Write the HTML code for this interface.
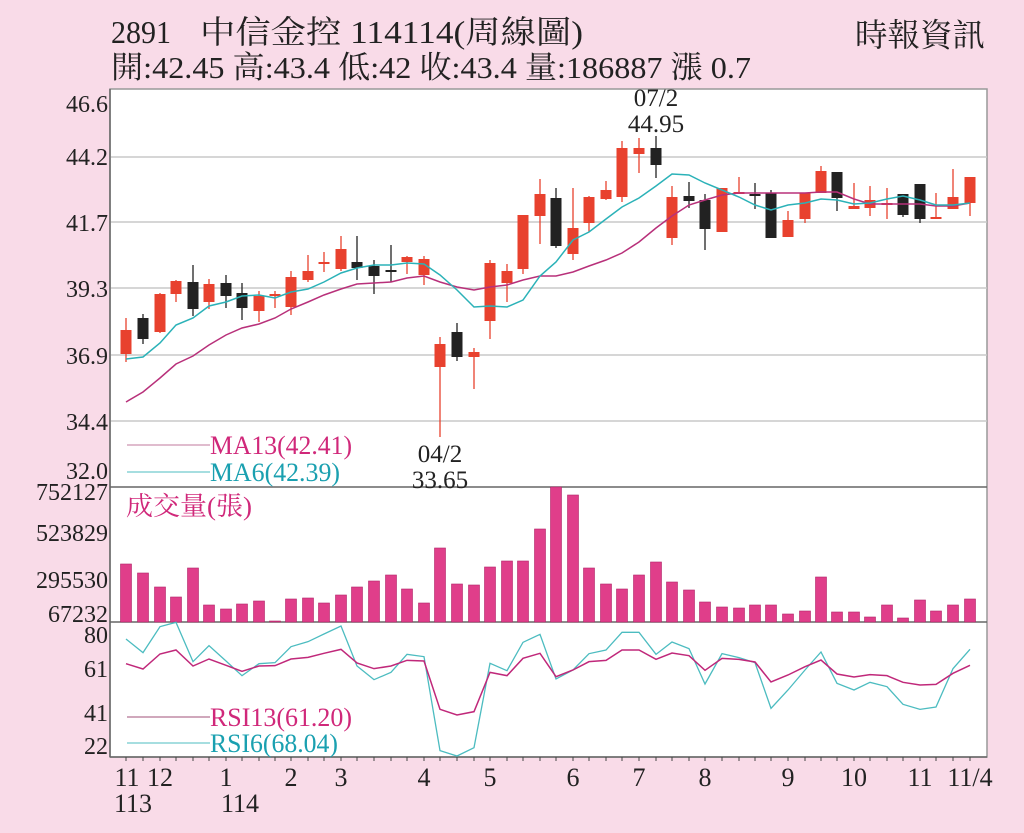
<!DOCTYPE html>
<html><head><meta charset="utf-8"><style>
html,body{margin:0;padding:0;background:#f9dbe8;}
svg{display:block;}
text{font-family:"Liberation Serif","Noto Serif CJK SC","Noto Sans CJK TC",serif;}
</style></head><body>
<svg id="s" width="1024" height="833" xmlns="http://www.w3.org/2000/svg">
<rect x="0" y="0" width="1024" height="833" fill="#f9dbe8"/>
<rect x="110" y="89" width="877" height="668" fill="#fff" stroke="#999" stroke-width="1.5"/>
<g stroke="#c8c8c8" stroke-width="1.5">
<line x1="110" y1="157" x2="987" y2="157"/><line x1="110" y1="222" x2="987" y2="222"/>
<line x1="110" y1="288" x2="987" y2="288"/><line x1="110" y1="355" x2="987" y2="355"/>
<line x1="110" y1="421" x2="987" y2="421"/>
</g>
<g stroke="#666" stroke-width="1.5"><line x1="110" y1="487" x2="987" y2="487"/><line x1="110" y1="622" x2="987" y2="622"/><line x1="110" y1="757" x2="987" y2="757"/><line x1="110" y1="89" x2="110" y2="757"/></g>
<g font-size="32" fill="#222">
<text x="111" y="43" textLength="60" lengthAdjust="spacingAndGlyphs">2891</text>
<text x="200" y="43" textLength="383" lengthAdjust="spacingAndGlyphs">中信金控 114114(周線圖)</text>
<text x="855" y="46" textLength="130" lengthAdjust="spacingAndGlyphs">時報資訊</text>
<text x="111" y="78" font-size="31" textLength="640" lengthAdjust="spacingAndGlyphs">開:42.45 高:43.4 低:42 收:43.4 量:186887 漲 0.7</text>
</g>
<g font-size="24" fill="#222" text-anchor="end">
<text x="108" y="112">46.6</text><text x="108" y="165">44.2</text><text x="108" y="231">41.7</text>
<text x="108" y="297">39.3</text><text x="108" y="364">36.9</text><text x="108" y="430">34.4</text>
<text x="108" y="479">32.0</text>
<text x="108" y="500">752127</text><text x="108" y="541">523829</text><text x="108" y="588">295530</text><text x="108" y="622">67232</text>
<text x="108" y="643">80</text><text x="108" y="677">61</text><text x="108" y="721">41</text><text x="108" y="754">22</text>
</g>
<g id="g"></g>
<g font-size="26">
<line x1="127" y1="445" x2="210" y2="445" stroke="#c27a9c" stroke-width="1"/>
<line x1="127" y1="472" x2="210" y2="472" stroke="#4cbcc0" stroke-width="1"/>
<text x="210" y="454" fill="#d0287a" textLength="142" lengthAdjust="spacingAndGlyphs">MA13(42.41)</text>
<text x="210" y="481" fill="#1aa0b0" textLength="130" lengthAdjust="spacingAndGlyphs">MA6(42.39)</text>
<text x="440" y="462" fill="#222" text-anchor="middle" font-size="25">04/2</text>
<text x="440" y="488" fill="#222" text-anchor="middle" font-size="25">33.65</text>
<text x="656" y="106" fill="#222" text-anchor="middle" font-size="25">07/2</text>
<text x="656" y="132" fill="#222" text-anchor="middle" font-size="25">44.95</text>
<text x="126" y="515" fill="#d0287a" textLength="126" lengthAdjust="spacingAndGlyphs">成交量(張)</text>
<line x1="127" y1="717" x2="210" y2="717" stroke="#a0507a" stroke-width="1"/>
<line x1="127" y1="743" x2="210" y2="743" stroke="#4cbcc0" stroke-width="1"/>
<text x="210" y="726" fill="#d0287a" textLength="142" lengthAdjust="spacingAndGlyphs">RSI13(61.20)</text>
<text x="210" y="752" fill="#1aa0b0" textLength="128" lengthAdjust="spacingAndGlyphs">RSI6(68.04)</text>
</g>
<g font-size="26" fill="#222" text-anchor="middle">
<text x="127" y="786">11</text><text x="160" y="786">12</text><text x="226" y="786">1</text>
<text x="291" y="786">2</text><text x="341" y="786">3</text><text x="424" y="786">4</text>
<text x="490" y="786">5</text><text x="573" y="786">6</text><text x="639" y="786">7</text>
<text x="705" y="786">8</text><text x="788" y="786">9</text><text x="854" y="786">10</text>
<text x="920" y="786">11</text><text x="970" y="786">11/4</text>
<text x="133" y="812">113</text><text x="240" y="812">114</text>
</g>
</svg>
<script>
var NS="http://www.w3.org/2000/svg",g=document.getElementById("g");
function el(t,a){var e=document.createElementNS(NS,t);for(var k in a)e.setAttribute(k,a[k]);g.appendChild(e);return e;}
var c=[[126,'r',330,354,318,362],[143,'b',318,339,314,344],[160,'r',294,332,293,333],[176,'r',281,294,280,302],[193,'b',282,309,265,316],[209,'r',284,302,279,309],[226,'b',283,296,275,308],[242,'b',293,308,283,320],[259,'r',296,311,291,322],[275,'r',294,296,291,308],[291,'r',277,307,271,315],[308,'r',271,280,255,282],[324,'r',262,264,252,272],[341,'r',249,269,236,271],[357,'b',262,268,236,280],[374,'b',266,276,260,294],[391,'b',270,271,245,282],[407,'r',257,262,256,274],[424,'r',259,275,256,285],[440,'r',344,367,337,437],[457,'b',332,357,323,361],[474,'r',352,357,348,389],[490,'r',263,321,260,339],[507,'r',271,283,264,302],[523,'r',215,269,215,274],[540,'r',194,216,179,244],[556,'b',198,246,188,248],[573,'r',228,254,188,260],[589,'r',197,223,196,232],[606,'r',190,199,181,200],[622,'r',148,197,141,202],[639,'r',148,154,138,173],[656,'b',148,165,136,178],[672,'r',197,238,186,245],[689,'b',196,201,182,208],[705,'b',200,229,194,250],[722,'r',188,232,188,232],[739,'r',192,194,177,194],[755,'b',194,196,183,209],[771,'b',193,238,190,238],[788,'r',220,237,211,237],[805,'r',193,219,193,223],[821,'r',171,193,166,193],[837,'b',172,198,172,211],[854,'r',206,209,183,209],[870,'r',200,208,186,216],[887,'r',203,204,188,219],[903,'b',194,215,194,217],[920,'b',184,219,184,223],[936,'r',217,219,193,219],[953,'r',197,209,169,209],[970,'r',177,203,177,216]];
function pl(pts,col,w){el('polyline',{points:pts.map(function(p){return p.join(',')}).join(' '),fill:'none',stroke:col,'stroke-width':w});}
var X=c.map(function(a){return a[0];});
var ma6=[359,357,343,325,318,306,302,296,295,298,292,289,282,273,268,265,265,263,264,275,290,307,306,307,300,276,262,240,232,219,207,198,186,174,175,183,190,197,205,210,205,203,199,200,204,203,199,196,200,205,205,203];
var ma13=[402,392,378,364,356,345,335,328,324,318,309,302,295,289,284,283,282,278,276,282,287,290,287,285,280,276,276,272,266,260,253,242,228,216,205,200,195,193,193,193,193,193,192,192,199,204,204,204,204,206,206,203];
c.forEach(function(a){var col=a[1]=='r'?'#e8412e':'#222';
el('line',{x1:a[0],x2:a[0],y1:a[4],y2:a[5],stroke:col,'stroke-width':1.3});
var h=Math.max(2,a[3]-a[2]);el('rect',{x:a[0]-5.5,y:a[2],width:11,height:h,fill:col});});
pl(X.map(function(x,i){return[x,ma13[i]]}),'#b8307a',1.5);
pl(X.map(function(x,i){return[x,ma6[i]]}),'#2bb2b8',1.5);
var vol=[564,573,587,597,568,605,609,604,601,621,599,598,603,595,587,581,575,589,603,548,584,585,567,561,561,529,487,495,568,584,589,575,562,582,590,602,607,608,605,605,614,611,577,612,612,617,605,618,600,611,605,599];
vol.forEach(function(v,i){el('rect',{x:X[i]-5.5,y:v,width:11,height:622-v,fill:'#e03e8a',stroke:'#b02468','stroke-width':0.6});});
var r6a=[477,518,440,427,545,497,543,587,551,548,500,485,462,438,558,599,577,523,530,812,828,803,550,572,487,463];
var r6b=[597,570,521,510,457,457,523,486,506,612,521,533,548,685,630,570,516,610,630,607,620,673,688,681,566,508];
var r13a=[551,567,522,510,558,537,556,574,558,557,537,532,520,508,549,566,558,541,543,688,705,695,577,587,535,520];
var r13b=[590,570,545,541,510,510,538,519,527,571,535,538,546,606,585,560,540,582,591,584,587,607,615,613,580,556];
function ry(v){return 480+v/3;}
var r6=r6a.concat(r6b).map(ry),r13=r13a.concat(r13b).map(ry);
pl(X.map(function(x,i){return[x,r6[i]]}),'#4cbcc0',1.3);
pl(X.map(function(x,i){return[x,r13[i]]}),'#c0287a',1.5);
X.forEach(function(x){el('line',{x1:x,x2:x,y1:757,y2:761,stroke:'#444','stroke-width':1});});
</script>
</body></html>
